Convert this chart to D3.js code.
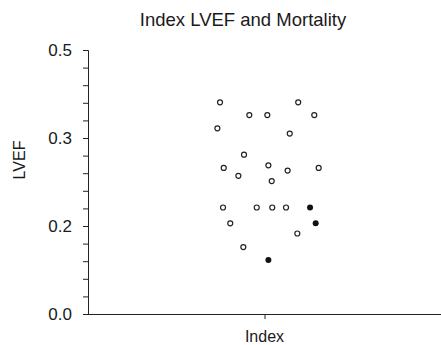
<!DOCTYPE html>
<html><head><meta charset="utf-8">
<script src="https://cdn.jsdelivr.net/npm/d3@7"></script>
<style>
html,body{margin:0;padding:0;background:#fff;}
text{font-family:"Liberation Sans",Arial,Helvetica,sans-serif;fill:#1a1a1a;}
</style></head>
<body>
<svg id="chart" width="441" height="345"></svg>
<script>
// ---- data ----
const title = "Index LVEF and Mortality";
const categories = ["Index"];
const yTickValues = [0.0, 0.2, 0.3, 0.5];
const yTickLabels = ["0.0", "0.2", "0.3", "0.5"];
const yMinorTicks = [0.04, 0.08, 0.12, 0.16, 0.22, 0.24, 0.26, 0.28, 0.34, 0.38, 0.42, 0.46];
// survivors (open circles): jittered x position, LVEF
const aliveX = [0.748, 1.191, 0.914, 1.016, 1.282, 0.733, 1.143, 0.884, 0.769, 1.022, 1.131, 1.307, 0.852, 1.041, 0.765, 0.956, 1.044, 1.122, 0.806, 1.186, 0.880];
const aliveY = [0.381, 0.381, 0.352, 0.352, 0.352, 0.322, 0.310, 0.281, 0.266, 0.269, 0.263, 0.266, 0.257, 0.251, 0.221, 0.221, 0.221, 0.221, 0.203, 0.183, 0.152];
// deaths (filled circles)
const deadX = [1.258, 1.290, 1.022];
const deadY = [0.221, 0.203, 0.123];

// ---- chart ----
const svg = d3.select("#chart");
const x = d3.scaleLinear().domain([0, 2]).range([88, 441]);
const y = d3.scaleLinear().domain(yTickValues).range([314, 226, 138, 50]);

svg.append("text").attr("x", 243).attr("y", 26).attr("text-anchor", "middle")
  .style("font-size", "18.5px").text(title);

// y axis
const yAxis = svg.append("g").attr("transform", "translate(88,0)")
  .call(d3.axisLeft(y).tickValues(yTickValues.concat(yMinorTicks).sort((a,b)=>a-b))
    .tickSize(5).tickPadding(0)
    .tickFormat(d => { const i = yTickValues.indexOf(d); return i >= 0 ? yTickLabels[i] : ""; }));
yAxis.select(".domain").attr("stroke", "#222").attr("stroke-width", 1).attr("d", "M-5,50.5H0.5V314");
yAxis.selectAll(".tick line").attr("stroke", "#222");
yAxis.selectAll(".tick text").attr("x", -16).style("font-size", "17px").attr("fill", "#1a1a1a");

// x axis
const xAxis = svg.append("g").attr("transform", "translate(0,314)")
  .call(d3.axisBottom(x).tickValues([1]).tickSize(5).tickFormat(() => ""));
xAxis.select(".domain").attr("stroke", "#222").attr("d", "M88,0.5H441");
xAxis.selectAll(".tick line").attr("stroke", "#222");

svg.append("text").attr("x", x(1)).attr("y", 342).attr("text-anchor", "middle")
  .style("font-size", "16px").text(categories[0]);
svg.append("text").attr("transform", "translate(25,160) rotate(-90)").attr("text-anchor", "middle")
  .style("font-size", "16px").text("LVEF");

// points
svg.append("g").selectAll("circle").data(aliveX.map((d,i)=>[d, aliveY[i]])).join("circle")
  .attr("cx", d => x(d[0])).attr("cy", d => y(d[1])).attr("r", 2.5)
  .attr("fill", "#fff").attr("stroke", "#222").attr("stroke-width", 1.2);
svg.append("g").selectAll("circle").data(deadX.map((d,i)=>[d, deadY[i]])).join("circle")
  .attr("cx", d => x(d[0])).attr("cy", d => y(d[1])).attr("r", 3)
  .attr("fill", "#111").attr("stroke", "none");
</script>
</body></html>
